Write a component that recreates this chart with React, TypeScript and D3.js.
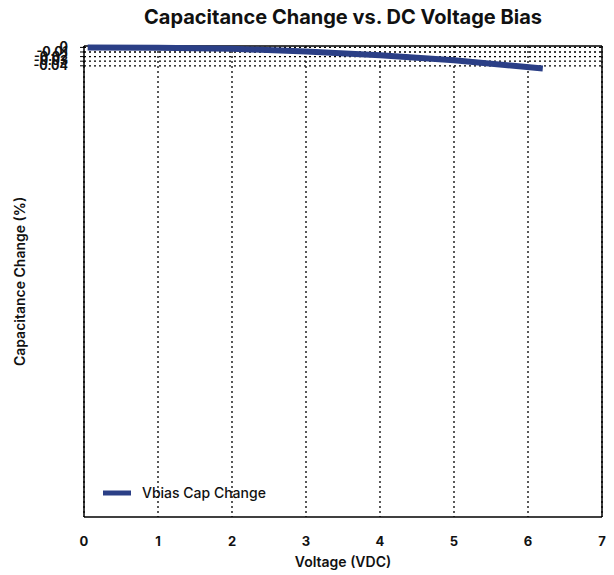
import React from "react";
import * as d3 from "d3";

const voltages = [0.05, 1, 2, 3, 4, 5, 6.2];
const capChange = [0, -0.001, -0.003, -0.009, -0.017, -0.028, -0.046];
const xTicks = [0, 1, 2, 3, 4, 5, 6, 7];
const yTicks = [0, -0.01, -0.02, -0.03, -0.04];
const seriesName = "Vbias Cap Change";

const W = 614, H = 575;
const m = { left: 84, right: 12, top: 46, bottom: 58 };

export default function App() {
  const x = d3.scaleLinear().domain([0, 7]).range([m.left, W - m.right]);
  const y = d3.scaleLinear().domain([0.003, -1.02]).range([m.top, H - m.bottom]);
  const line = d3.line<number>().x((d, i) => x(voltages[i])).y((d) => y(d));
  const font = "Inter, 'Noto Sans', sans-serif";
  const bottom = H - m.bottom;
  return (
    <svg width={W} height={H} style={{ position: "absolute", left: 0, top: 0, fontFamily: font }}>
      <rect width={W} height={H} fill="#fff" />
      <text x={343} y={24} textAnchor="middle" fontSize={20} fontWeight={700} fill="#111">
        Capacitance Change vs. DC Voltage Bias
      </text>
      {xTicks.map((t) => (
        <line key={"vx" + t} x1={x(t)} x2={x(t)} y1={m.top} y2={bottom} stroke="#000" strokeWidth={1.3} strokeDasharray="2,3" />
      ))}
      {yTicks.map((t) => (
        <line key={"hy" + t} x1={m.left} x2={W - m.right} y1={y(t)} y2={y(t)} stroke="#000" strokeWidth={1.3} strokeDasharray="2,3" />
      ))}
      <line x1={m.left} x2={W - m.right} y1={m.top} y2={m.top} stroke="#000" strokeWidth={1.5} />
      <line x1={m.left} x2={W - m.right} y1={bottom} y2={bottom} stroke="#000" strokeWidth={1.5} />
      <line x1={m.left} x2={m.left} y1={m.top} y2={bottom} stroke="#000" strokeWidth={1.5} />
      <line x1={W - m.right} x2={W - m.right} y1={m.top} y2={bottom} stroke="#000" strokeWidth={1.5} />
      {yTicks.map((t) => (
        <line key={"ty" + t} x1={m.left - 4} x2={m.left} y1={y(t)} y2={y(t)} stroke="#000" strokeWidth={1} />
      ))}
      <path d={line(capChange) || ""} fill="none" stroke="#2b3f86" strokeWidth={6} />
      {xTicks.map((t) => (
        <text key={"lx" + t} x={x(t)} y={bottom + 29} textAnchor="middle" fontSize={13} fontWeight={700} fill="#111">
          {t}
        </text>
      ))}
      {yTicks.map((t) => (
        <text key={"ly" + t} x={m.left - 16} y={y(t) + 4} textAnchor="end" fontSize={12.5} fontWeight={700} fill="#111">
          {t === 0 ? "0" : d3.format(".2f")(t).replace("−", "-")}
        </text>
      ))}
      <text x={(m.left + W - m.right) / 2} y={bottom + 50} textAnchor="middle" fontSize={14} fontWeight={600} fill="#111">
        Voltage (VDC)
      </text>
      <text transform={`translate(25,${(m.top + bottom) / 2}) rotate(-90)`} textAnchor="middle" fontSize={14} fontWeight={600} fill="#111">
        Capacitance Change (%)
      </text>
      <line x1={103} x2={131} y1={493} y2={493} stroke="#2b3f86" strokeWidth={5} />
      <text x={142} y={498} fontSize={14} fontWeight={500} fill="#111">
        {seriesName}
      </text>
    </svg>
  );
}
